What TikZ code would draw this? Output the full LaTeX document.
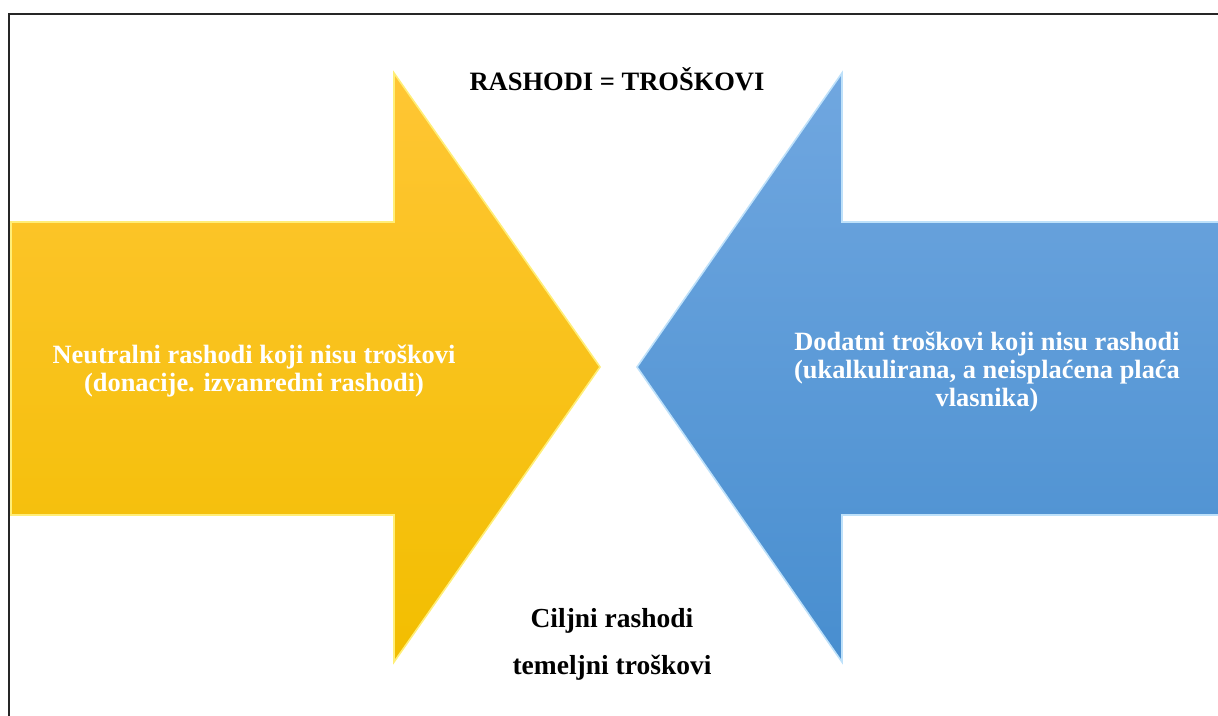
\documentclass[tikz,border=0pt]{standalone}
\usepackage{fontspec}
\setmainfont{Liberation Serif}
\usetikzlibrary{positioning}
\definecolor{goldtop}{RGB}{255,198,52}
\definecolor{goldbot}{RGB}{242,190,0}
\definecolor{goldedge}{RGB}{255,238,120}
\definecolor{bluetop}{RGB}{112,167,224}
\definecolor{bluebot}{RGB}{72,142,207}
\definecolor{blueedge}{RGB}{190,225,250}
\tikzset{gold arrow/.style={top color=goldtop,bottom color=goldbot,draw=goldedge,line width=1.6pt,line join=miter},
         blue arrow/.style={top color=bluetop,bottom color=bluebot,draw=blueedge,line width=1.6pt,line join=miter},
         arrow text/.style={text=white,font=\bfseries\fontsize{26.4}{28}\selectfont,inner sep=0pt,align=center},
         plain text/.style={text=black,font=\bfseries\fontsize{27.5}{30}\selectfont,inner sep=0pt},
            }
\begin{document}
\begin{tikzpicture}[x=1pt,y=-1pt]
    \clip (0,0) rectangle (1218,715);
    \draw[line width=2.2pt,black!85] (9,14) rectangle (1240,740);

    \shade[gold arrow] (11,222) -- (394,222) -- (394,73) -- (600,367)
        -- (394,662) -- (394,515) -- (11,515) -- cycle;
    \shade[blue arrow] (1240,222) -- (842,222) -- (842,73) -- (637,367)
        -- (842,662) -- (842,515) -- (1240,515) -- cycle;

    \node[plain text,font=\bfseries\fontsize{26.5}{30}\selectfont] (1) at (617,79) {RASHODI = TROŠKOVI};
    \node[arrow text] (2) at (254,371) {Neutralni rashodi koji nisu troškovi\\(donacije. izvanredni rashodi)};
    \node[arrow text] (3) at (987,372) {Dodatni troškovi koji nisu rashodi\\(ukalkulirana, a neisplaćena plaća\\vlasnika)};
    \node[plain text] (4) at (612,621) {Ciljni rashodi};
    \node[plain text] (5) [below =21pt of 4] {temeljni troškovi};
    %%
\end{tikzpicture}
\end{document}
